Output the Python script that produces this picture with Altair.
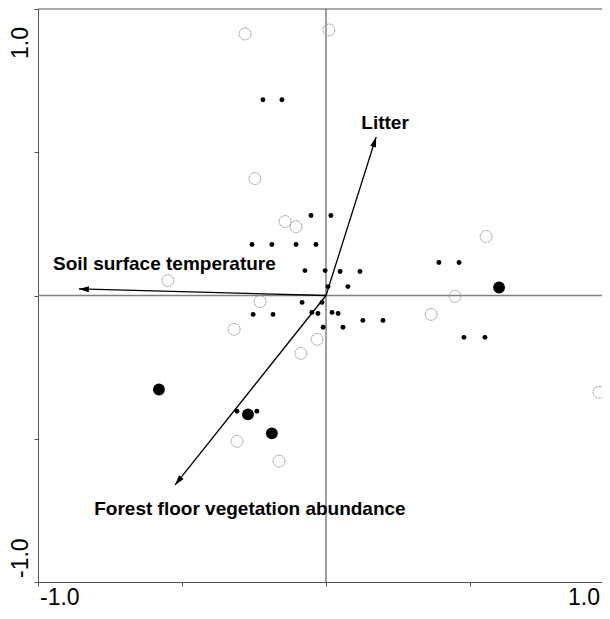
import math
import altair as alt
import pandas as pd

# ---- data ----
open_x = [-0.281, 0.010, -0.247, -0.142, -0.104, 0.556, -0.549, -0.229, 0.448,
          -0.319, 0.365, -0.031, -0.087, 0.948, -0.309, -0.163]
open_y = [0.913, 0.927, 0.408, 0.258, 0.240, 0.206, 0.052, -0.021, -0.003,
          -0.118, -0.066, -0.153, -0.202, -0.338, -0.509, -0.578]

big_x = [-0.580, -0.271, -0.188, 0.601]
big_y = [-0.328, -0.415, -0.481, 0.028]

small_x = [-0.219, -0.153, -0.052, 0.017, -0.257, -0.188, -0.104, -0.035,
           -0.073, -0.003, 0.049, 0.118, 0.007, 0.076, -0.083, -0.014,
           -0.253, -0.184, -0.049, -0.028, 0.021, 0.042, 0.128, 0.198,
           -0.010, 0.059, 0.392, 0.462, 0.479, 0.552, -0.309, -0.240]
small_y = [0.683, 0.683, 0.279, 0.279, 0.178, 0.178, 0.178, 0.178,
           0.087, 0.087, 0.084, 0.084, 0.031, 0.031, -0.024, -0.024,
           -0.066, -0.066, -0.059, -0.063, -0.059, -0.063, -0.087, -0.087,
           -0.111, -0.111, 0.115, 0.115, -0.146, -0.146, -0.404, -0.404]

arrow_names = ["Litter", "Soil surface temperature", "Forest floor vegetation abundance"]
arrow_x = [0.174, -0.858, -0.524]
arrow_y = [0.553, 0.023, -0.661]
label_x = [0.205, -0.561, -0.264]
label_y = [0.581, 0.089, -0.766]

xtick_labels = ["-1.0", "1.0"]
xtick_values = [-1.0, 1.0]
ytick_labels = ["-1.0", "1.0"]
ytick_values = [-1.0, 1.0]

# ---- layout ----
W, H = 564, 573
XMAX = -1 + W / 288.0
FONT = "Liberation Sans"
FRAME = "#555555"

xs = alt.Scale(domain=[-1, XMAX], nice=False, zero=False)
ys = alt.Scale(domain=[-1, 1], nice=False, zero=False)
xa = alt.Axis(values=[-1, -0.5, 0, 0.5], labels=False, title=None, grid=False,
              domainColor=FRAME, tickColor=FRAME, tickSize=4, domainWidth=1)
ya = alt.Axis(values=[-1, -0.5, 0, 0.5, 1], labels=False, title=None, grid=False,
              domainColor=FRAME, tickColor=FRAME, tickSize=4, domainWidth=1)


def X(f):
    return alt.X(f, type="quantitative", scale=xs, axis=xa)


def Y(f):
    return alt.Y(f, type="quantitative", scale=ys, axis=ya)


df_open = pd.DataFrame({"x": open_x, "y": open_y})
df_big = pd.DataFrame({"x": big_x, "y": big_y})
df_small = pd.DataFrame({"x": small_x, "y": small_y})
df_arrow = pd.DataFrame({
    "name": arrow_names,
    "x0": [0.0] * 3, "y0": [0.0] * 3,
    "x1": arrow_x, "y1": arrow_y,
    "ang": [math.degrees(math.atan2(a, b)) % 360 for a, b in zip(arrow_x, arrow_y)],
    "lx": label_x, "ly": label_y,
})
df_zero = pd.DataFrame({"v": [0.0]})

zero_v = alt.Chart(df_zero).mark_rule(color="#808080", strokeWidth=1.5).encode(x=X("v"))
zero_h = alt.Chart(df_zero).mark_rule(color="#808080", strokeWidth=1.5).encode(y=Y("v"))
top_line = alt.Chart(df_zero).mark_rule(color=FRAME, strokeWidth=1).encode(
    x=alt.value(0), x2=alt.value(W), y=alt.value(0))

open_pts = alt.Chart(df_open).mark_point(
    shape="circle", filled=False, stroke="#9a9a9a", strokeWidth=1,
    strokeDash=[2, 0.7], size=140, opacity=1).encode(x=X("x"), y=Y("y"))
big_pts = alt.Chart(df_big).mark_circle(color="black", size=140, opacity=1).encode(
    x=X("x"), y=Y("y"))
small_pts = alt.Chart(df_small).mark_circle(color="black", size=24, opacity=1).encode(
    x=X("x"), y=Y("y"))

arrow_lines = alt.Chart(df_arrow).mark_rule(color="black", strokeWidth=1.3).encode(
    x=X("x0"), y=Y("y0"), x2="x1", y2="y1")
arrow_heads = alt.Chart(df_arrow).mark_point(
    shape="M0,0L-0.6,2L0.6,2Z", filled=True, color="black", size=100,
    opacity=1, strokeWidth=0).encode(
    x=X("x1"), y=Y("y1"), angle=alt.Angle("ang:Q", scale=None))
arrow_labels = alt.Chart(df_arrow).mark_text(
    font=FONT, fontSize=19, fontWeight="bold", align="center",
    baseline="alphabetic", color="black").encode(
    x=X("lx"), y=Y("ly"), text="name:N")

df_xt_l = pd.DataFrame({"t": [xtick_labels[0]], "v": [xtick_values[0]]})
df_xt_r = pd.DataFrame({"t": [xtick_labels[1]], "v": [xtick_values[1]]})
df_yt_b = pd.DataFrame({"t": [ytick_labels[0]], "v": [ytick_values[0]]})
df_yt_t = pd.DataFrame({"t": [ytick_labels[1]], "v": [ytick_values[1]]})

XT_BASE = H + 23
xt_l = alt.Chart(df_xt_l).mark_text(font=FONT, fontSize=23, align="left",
                                    baseline="alphabetic", dx=2, color="black").encode(
    x=X("v"), y=alt.value(XT_BASE), text="t:N")
xt_r = alt.Chart(df_xt_r).mark_text(font=FONT, fontSize=23, align="right",
                                    baseline="alphabetic", dx=-14, color="black").encode(
    x=X("v"), y=alt.value(XT_BASE), text="t:N")
yt_b = alt.Chart(df_yt_b).mark_text(font=FONT, fontSize=23, align="left", angle=270,
                                    baseline="alphabetic", dx=4, color="black").encode(
    y=Y("v"), x=alt.value(-10), text="t:N")
yt_t = alt.Chart(df_yt_t).mark_text(font=FONT, fontSize=23, align="right", angle=270,
                                    baseline="alphabetic", dx=-18, color="black").encode(
    y=Y("v"), x=alt.value(-10), text="t:N")

chart = alt.layer(
    zero_v, zero_h, top_line, open_pts, big_pts, small_pts,
    arrow_lines, arrow_heads, arrow_labels, xt_l, xt_r, yt_b, yt_t,
).properties(
    width=W, height=H,
    padding={"left": 30, "top": 1, "right": 0, "bottom": 28},
    autosize=alt.AutoSizeParams(type="none"),
).configure_view(stroke=None)

chart.save("out.html", embed_options={"renderer": "svg", "actions": False})
